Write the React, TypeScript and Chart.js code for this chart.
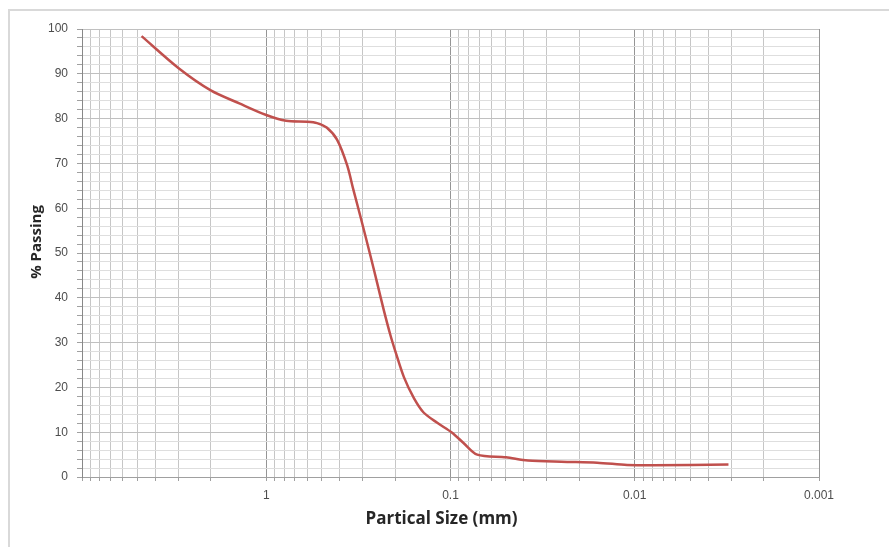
import React, { useEffect, useRef } from 'react';
import { Chart, registerables } from 'chart.js';

Chart.register(...registerables);

// Particle size (mm) and % passing
const particleSizes = [4.75, 3.0, 2.0, 1.4, 1.0, 0.78, 0.6, 0.53, 0.47, 0.413, 0.364, 0.337, 0.308, 0.272, 0.249, 0.23, 0.212, 0.199, 0.179, 0.158, 0.14, 0.118, 0.098, 0.085, 0.0716, 0.05, 0.038, 0.025, 0.016, 0.011, 0.008, 0.0031];
const percentPassing = [98.4, 91.3, 86.3, 83.4, 80.8, 79.5, 79.3, 79.0, 78.0, 75.3, 69.6, 64.2, 58.1, 49.4, 43.0, 37.2, 31.7, 28.0, 22.3, 17.6, 14.4, 12.1, 9.9, 7.6, 5.0, 4.4, 3.7, 3.4, 3.2, 2.7, 2.6, 2.8];

// Labelled x ticks
const xTickLabels = ['1', '0.1', '0.01', '0.001'];
// y ticks labelled every 10, grid every 2
const yLabelStep = 10;
const yGridStep = 2;

const xTitle = 'Partical Size (mm)';
const yTitle = '% Passing';

const X_MIN = 0.001;
const X_MAX = 10;

function buildLogTicks(): number[] {
  const out: number[] = [];
  for (let e = -3; e <= 0; e++) {
    for (let m = 1; m <= 9; m++) {
      out.push(parseFloat((m * Math.pow(10, e)).toPrecision(6)));
    }
  }
  out.push(10);
  return out;
}

function isDecade(v: number): boolean {
  const l = Math.log10(v);
  return Math.abs(l - Math.round(l)) < 1e-6;
}

const axisTitlePlugin = {
  id: 'axisTitles',
  afterDraw(chart: any) {
    const { ctx, chartArea } = chart;
    ctx.save();
    ctx.fillStyle = '#262626';
    ctx.textAlign = 'center';
    ctx.textBaseline = 'middle';
    ctx.font = 'bold 17px "Open Sans"';
    ctx.fillText(xTitle, (chartArea.left + chartArea.right) / 2 - 9, chartArea.bottom + 42);
    ctx.translate(37, (chartArea.top + chartArea.bottom) / 2 - 11);
    ctx.rotate(-Math.PI / 2);
    ctx.font = 'bold 15px "Open Sans"';
    ctx.fillText(yTitle, 0, 0);
    ctx.restore();
  },
};

export default function App() {
  const ref = useRef<HTMLCanvasElement | null>(null);

  useEffect(() => {
    if (!ref.current) return;
    const allTicks = buildLogTicks();
    const chart = new Chart(ref.current, {
      type: 'line',
      data: {
        datasets: [
          {
            data: particleSizes.map((x, i) => ({ x, y: percentPassing[i] })),
            borderColor: '#C0504D',
            borderWidth: 2.5,
            pointRadius: 0,
            tension: 0.3,
            fill: false,
          },
        ],
      },
      plugins: [axisTitlePlugin],
      options: {
        animation: false,
        responsive: false,
        layout: { padding: { left: 0, right: 70, top: 29, bottom: 0 } },
        plugins: { legend: { display: false }, tooltip: { enabled: false } },
        scales: {
          x: {
            type: 'logarithmic',
            reverse: true,
            min: X_MIN,
            max: X_MAX,
            afterBuildTicks: (scale: any) => {
              scale.ticks = allTicks.map((v) => ({ value: v }));
            },
            afterFit: (scale: any) => {
              scale.height = 70;
            },
            ticks: {
              autoSkip: false,
              maxRotation: 0,
              minRotation: 0,
              padding: 7,
              color: '#4d4d4d',
              font: { family: 'Liberation Sans', size: 12 },
              callback: (v: any) => {
                const val = Number(v);
                const lbl = xTickLabels.find((t) => Math.abs(parseFloat(t) - val) / val < 1e-6);
                return lbl ?? '';
              },
            },
            grid: {
              color: (ctx: any) => (ctx.tick && isDecade(ctx.tick.value) ? '#959595' : '#c6c6c6'),
              tickColor: '#a0a0a0',
              tickLength: 4,
              lineWidth: 1,
            },
            border: { color: '#a0a0a0', width: 1 },
            title: { display: false },
          },
          y: {
            min: 0,
            max: 100,
            afterFit: (scale: any) => {
              scale.width = 82;
            },
            ticks: {
              stepSize: yGridStep,
              autoSkip: false,
              padding: 9,
              color: '#4d4d4d',
              font: { family: 'Liberation Sans', size: 12 },
              callback: (v: any) => (Number(v) % yLabelStep === 0 ? String(v) : ''),
            },
            grid: {
              color: (ctx: any) => (ctx.tick && ctx.tick.value % yLabelStep === 0 ? '#c0c0c0' : '#dedede'),
              tickColor: '#a0a0a0',
              tickLength: 5,
              lineWidth: 1,
            },
            border: { color: '#888888', width: 1 },
            title: { display: false },
          },
        },
      },
    } as any);
    return () => chart.destroy();
  }, []);

  return (
    <div style={{ position: 'fixed', left: 0, top: 0, width: 889, height: 547, background: '#fff' }}>
      <div
        style={{
          position: 'absolute',
          left: 8,
          top: 9,
          width: 889 - 8,
          height: 547 - 9,
          borderLeft: '2px solid #d9d9d9',
          borderTop: '2px solid #d9d9d9',
          boxSizing: 'border-box',
        }}
      />
      <canvas ref={ref} width={889} height={547} style={{ position: 'absolute', left: 0, top: 0, width: 889, height: 547 }} />
    </div>
  );
}
